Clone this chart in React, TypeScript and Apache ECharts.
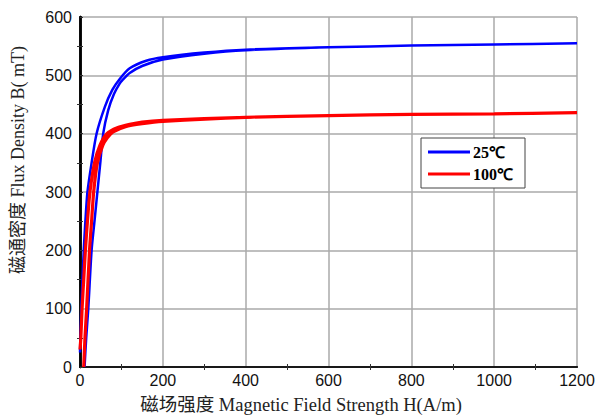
import React, { useEffect, useRef } from "react";
import * as echarts from "echarts";

// 25℃ loop: ascending (lower) branch and descending (upper) branch
const blueUpH = [11, 15, 20, 28, 35, 42, 49, 56, 68, 82, 95, 104, 120, 150, 200, 300, 400, 600, 800, 1000, 1200];
const blueUpB = [0, 50, 100, 200, 250, 300, 350, 400, 440, 468, 485, 493, 504, 516, 527, 537, 543, 548, 551, 553, 555];
const blueDownH = [1200, 1000, 800, 600, 400, 300, 200, 160, 120, 95, 78, 60, 40, 28, 18, 13, 9, 6, 3, 1, 0];
const blueDownB = [555, 553, 551, 548, 544, 539, 531, 525, 512, 493, 475, 446, 400, 350, 300, 250, 200, 150, 100, 50, 25];

// 100℃ loop
const redUpH = [9, 12, 16, 23, 28, 33, 42, 55, 66, 80, 110, 150, 200, 400, 600, 800, 1000, 1200];
const redUpB = [0, 50, 100, 200, 250, 300, 350, 380, 393, 403, 412, 417, 421, 428, 431, 433, 434, 436];
const redDownH = [1200, 1000, 800, 600, 400, 200, 150, 120, 90, 65, 48, 35, 24, 18, 13, 9, 5, 2, 0];
const redDownB = [436, 434, 433, 431, 428, 423, 420, 416, 410, 400, 380, 350, 300, 250, 200, 150, 100, 50, 30];

const xTicks = { min: 0, max: 1200, interval: 200 };
const yTicks = { min: 0, max: 600, interval: 100 };
const legendNames = ["25℃", "100℃"];

function pairs(h: number[], b: number[]) {
  return h.map((v, i) => [v, b[i]]);
}

export default function App() {
  const ref = useRef<HTMLDivElement>(null);
  useEffect(() => {
    if (!ref.current) return;
    const chart = echarts.init(ref.current, null, { renderer: "svg" });
    const blueData = [...pairs(blueUpH, blueUpB), ...pairs(blueDownH, blueDownB).slice(1)];
    const redData = [...pairs(redUpH, redUpB), ...pairs(redDownH, redDownB).slice(1)];
    const labelStyle = {
      fontFamily: "Liberation Sans, Arial, sans-serif",
      fontSize: 16,
      color: "#111",
      formatter: (v: number) => String(v),
    };
    chart.setOption({
      animation: false,
      backgroundColor: "#fff",
      grid: { left: 80, right: 21, top: 17, bottom: 49, show: false },
      legend: {
        data: legendNames,
        left: 421,
        top: 138,
        orient: "vertical",
        backgroundColor: "#fff",
        borderColor: "#444",
        borderWidth: 1,
        borderRadius: 0,
        padding: [6, 12, 6, 7],
        itemGap: 6,
        itemWidth: 42,
        itemHeight: 3,
        icon: "rect",
        textStyle: { fontFamily: "Liberation Serif, Times New Roman, serif", fontWeight: "bold", fontSize: 16, color: "#000", padding: [0, 0, 0, -2] },
      },
      xAxis: [
        {
          type: "value",
          ...xTicks,
          axisLine: { show: true, onZero: false, lineStyle: { color: "#000", width: 2 } },
          axisTick: { show: false },
          minorTick: { show: true, splitNumber: 2, length: 3, lineStyle: { color: "#333" } },
          axisLabel: { ...labelStyle, margin: 5 },
          splitLine: { show: true, lineStyle: { color: "#aaa", width: 1.5 } },
        },
        {
          type: "value",
          position: "top",
          ...xTicks,
          axisLine: { show: true, lineStyle: { color: "#222", width: 1.5 } },
          axisTick: { show: false },
          minorTick: { show: true, splitNumber: 2, length: 3, lineStyle: { color: "#333" } },
          axisLabel: { show: false },
          splitLine: { show: false },
        },
      ],
      yAxis: [
        {
          type: "value",
          ...yTicks,
          axisLine: { show: true, onZero: false, lineStyle: { color: "#000", width: 2.5 } },
          axisTick: { show: false },
          minorTick: { show: true, splitNumber: 2, length: 3, lineStyle: { color: "#333" } },
          axisLabel: { ...labelStyle, margin: 8 },
          splitLine: { show: true, lineStyle: { color: "#aaa", width: 1.5 } },
        },
        {
          type: "value",
          position: "right",
          ...yTicks,
          axisLine: { show: true, lineStyle: { color: "#000", width: 2.5 } },
          axisTick: { show: true, inside: false, length: 3, lineStyle: { color: "#333" } },
          minorTick: { show: true, splitNumber: 2, length: 3, lineStyle: { color: "#333" } },
          axisLabel: { show: false },
          splitLine: { show: false },
        },
      ],
      series: [
        {
          name: legendNames[0],
          type: "line",
          data: blueData,
          showSymbol: false,
          smooth: 0.25,
          color: "#0000ff",
          lineStyle: { color: "#0000ff", width: 2.5 },
        },
        {
          name: legendNames[1],
          type: "line",
          data: redData,
          showSymbol: false,
          smooth: 0.25,
          color: "#ff0000",
          lineStyle: { color: "#ff0000", width: 3.2 },
        },
      ],
      graphic: [
        {
          type: "text",
          x: 301,
          y: 405,
          style: {
            text: "磁场强度 Magnetic Field Strength H(A/m)",
            fontFamily: "Liberation Serif, Noto Sans CJK SC, serif",
            fontSize: 18.5,
            fill: "#222",
            align: "center",
            verticalAlign: "middle",
          },
        },
        {
          type: "text",
          x: 18,
          y: 160,
          rotation: Math.PI / 2,
          style: {
            text: "磁通密度 Flux Density B( mT)",
            fontFamily: "Liberation Serif, Noto Sans CJK SC, serif",
            fontSize: 18,
            fill: "#222",
            align: "center",
            verticalAlign: "middle",
          },
        },
      ],
    });
    return () => chart.dispose();
  }, []);
  return <div ref={ref} style={{ width: 598, height: 416, position: "absolute", left: 0, top: 0 }} />;
}
